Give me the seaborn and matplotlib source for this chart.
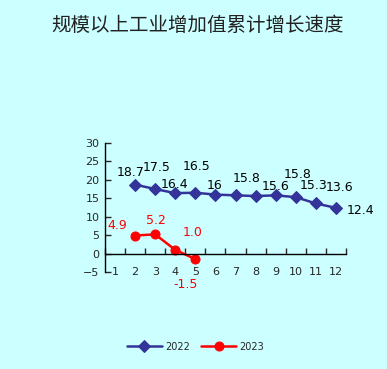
import matplotlib
matplotlib.use("Agg")
import matplotlib.pyplot as plt
import seaborn as sns
import pandas as pd

# ---- data ----
months_axis = list(range(1, 13))
months_2022 = [2, 3, 4, 5, 6, 7, 8, 9, 10, 11, 12]
values_2022 = [18.7, 17.5, 16.4, 16.5, 16, 15.8, 15.6, 15.8, 15.3, 13.6, 12.4]
labels_2022 = ["18.7", "17.5", "16.4", "16.5", "16", "15.8", "15.6", "15.8", "15.3", "13.6", "12.4"]
months_2023 = [2, 3, 4, 5]
values_2023 = [4.9, 5.2, 1.0, -1.5]
labels_2023 = ["4.9", "5.2", "1.0", "-1.5"]
title = "规模以上工业增加值累计增长速度"
series_names = ["2022", "2023"]

# label offsets (pixels) - layout only
off_2022 = [(-5, 12), (1, 22), (-1, 9), (1, 26), (-1, 9), (11, 17), (20, 10), (22, 21), (18, 12), (24, 16), (25, -3)]
off_2023 = [(-18, 10), (1, 14), (17, 17), (-10, -25)]

bg = "#CCFFFF"
blue = "#333399"
red = "#FF0000"

sns.set_style("white")
plt.rcParams["font.family"] = ["DejaVu Sans"]

fig = plt.figure(figsize=(3.87, 3.69), dpi=100)
fig.patch.set_facecolor(bg)
ax = fig.add_axes([0.2713, 0.2629, 0.6227, 0.3496])
ax.set_facecolor(bg)

df22 = pd.DataFrame({"month": months_2022, "value": values_2022})
df23 = pd.DataFrame({"month": months_2023, "value": values_2023})

sns.lineplot(data=df22, x="month", y="value", ax=ax, color=blue, marker="D",
             markersize=6.5, markeredgecolor=blue, linewidth=1.8, label=series_names[0],
             clip_on=False)
sns.lineplot(data=df23, x="month", y="value", ax=ax, color=red, marker="o",
             markersize=6.5, markeredgecolor=red, linewidth=1.8, label=series_names[1],
             clip_on=False)

for m, v, t, (dx, dy) in zip(months_2022, values_2022, labels_2022, off_2022):
    ax.annotate(t, (m, v), xytext=(dx, dy), textcoords="offset pixels",
                ha="center", va="center", fontsize=9, color="black", annotation_clip=False)
for m, v, t, (dx, dy) in zip(months_2023, values_2023, labels_2023, off_2023):
    ax.annotate(t, (m, v), xytext=(dx, dy), textcoords="offset pixels",
                ha="center", va="center", fontsize=9, color=red, annotation_clip=False)

ax.set_xlim(0.5, 12.5)
ax.set_ylim(-5, 30)
ax.set_yticks(range(-5, 31, 5))
ax.set_xticks(months_axis)
ax.set_xticklabels([str(m) for m in months_axis])
ax.set_xticks([m + 0.5 for m in range(0, 13)], minor=True)
ax.set_xlabel("")
ax.set_ylabel("")

for s in ["top", "right"]:
    ax.spines[s].set_visible(False)
ax.spines["bottom"].set_position(("data", 0))
ax.spines["bottom"].set_color("black")
ax.spines["left"].set_color("black")
ax.spines["bottom"].set_linewidth(1.0)
ax.spines["left"].set_linewidth(1.0)

ax.tick_params(axis="y", direction="in", length=4, width=1, labelsize=8, pad=4, left=True)
ax.tick_params(axis="x", which="major", length=0, labelsize=8, pad=10)
ax.tick_params(axis="x", which="minor", direction="in", length=4, width=1, bottom=True)

ax.get_legend().remove()
handles, labs = ax.get_legend_handles_labels()
fig.legend(handles, labs, loc="center", bbox_to_anchor=(0.505, 0.06), ncol=2,
           frameon=False, fontsize=7, handlelength=3.6, columnspacing=1.2,
           handletextpad=0.3)

fig.text(0.51, 1 - 25 / 369, title, ha="center", va="center", fontsize=14,
         color="#222222", family=["Noto Sans CJK SC", "DejaVu Sans"])

fig.savefig("out.png", dpi=100, facecolor=bg)
